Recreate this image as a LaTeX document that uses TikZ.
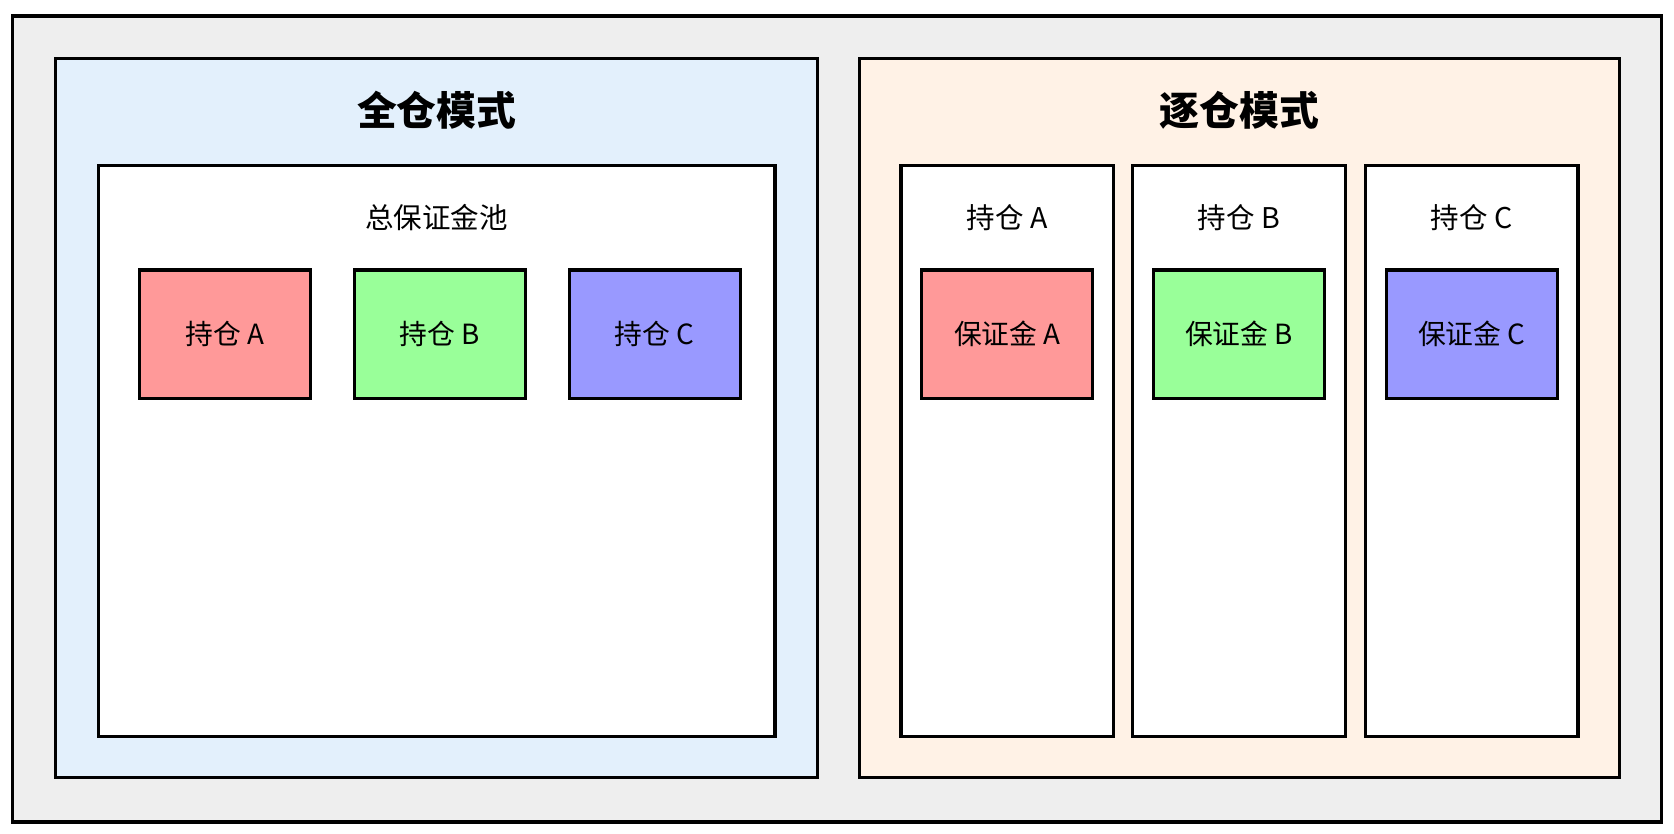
\documentclass[tikz,border=0pt]{standalone}
\usepackage{fontspec}
\setmainfont{Noto Sans CJK SC}
\usetikzlibrary{positioning}
\definecolor{outergray}{HTML}{EEEEEE}
\definecolor{crossblue}{HTML}{E3F0FC}
\definecolor{isoorange}{HTML}{FFF2E6}
\definecolor{posred}{HTML}{FF9999}
\definecolor{posgreen}{HTML}{99FF99}
\definecolor{posblue}{HTML}{9999FF}
\tikzset{
  panel/.style={draw, line width=0.85pt},
  posbox/.style={draw, line width=0.85pt, minimum width=1.6cm, minimum height=1.2cm, font=\fontsize{7.4}{9}\selectfont},
  title/.style={font=\fontsize{10.6}{13}\selectfont\bfseries},
  label/.style={font=\fontsize{7.6}{9}\selectfont}
}
\begin{document}
\begin{tikzpicture}[x=0.01cm, y=-0.01cm]
        \useasboundingbox (0,0) rectangle (1568,781);
        % panels %
        \draw[panel, fill=outergray] (12,15) rectangle (1556,770);
        \draw[panel, fill=crossblue] (52,55) rectangle (766,728);
        \draw[panel, fill=isoorange] (805,55) rectangle (1517,728);
        \node[title] (cross) at (409,103) {全仓模式};
        \node[title] (iso) at (1161,103) {逐仓模式};

        % cross margin %
        \draw[panel, fill=white] (92,155) rectangle (726,690);
        \node[label] (pool) at (409,204) {总保证金池};
        \node[posbox, fill=posred] (ca) at (211,313) {持仓 A};
        \node[posbox, fill=posgreen, right=0.38cm of ca] (cb) {持仓 B};
        \node[posbox, fill=posblue, right=0.38cm of cb] (cc) {持仓 C};

        % isolated margin %
        \foreach \x/\n/\c in {844/A/posred, 1061/B/posgreen, 1279/C/posblue} {
          \draw[panel, fill=white] (\x,155) rectangle (\x+199,690);
          \node[label] (pos\n) at (\x+99.5,204) {持仓 \n};
          \node[posbox, fill=\c] (m\n) at (\x+99.5,313) {保证金 \n};
        }
\end{tikzpicture}
\end{document}
